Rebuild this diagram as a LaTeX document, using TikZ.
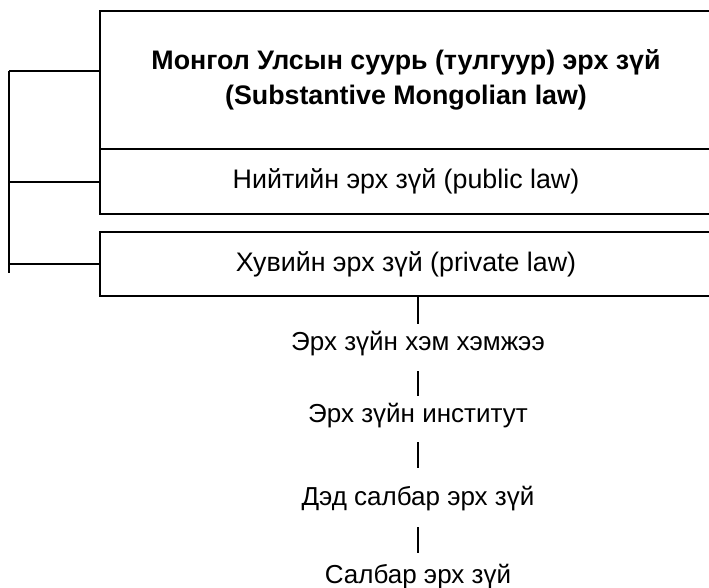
\documentclass[tikz,border=0pt]{standalone}
\usepackage{fontspec}
\setmainfont{Liberation Sans}
\usetikzlibrary{positioning}

\begin{document}
\begin{tikzpicture}[
  x=1pt, y=-1pt,
  lawbox/.style={
    rectangle,
    draw,
    line width=2.5pt,
    outer sep=0pt,
    align=center,
    minimum width=612pt,
    anchor=north west,
    font=\fontsize{26.8}{35}\selectfont
  },
  level/.style={
    inner xsep=0pt,
    inner ysep=7pt,
    text height=19pt,
    text depth=6pt
  },
  link/.style={line width=2pt},
  every node/.append style={font=\fontsize{26}{35}\selectfont}
]

\useasboundingbox (0,0) rectangle (709,587);
\clip (0,0) rectangle (709,587);

% Boxes (stacked top-down)
\node[lawbox, minimum height=138pt] (subst) at (100,11) {\textbf{Монгол Улсын суурь (тулгуур) эрх зүй}\\\textbf{(Substantive Mongolian law)}};
\node[lawbox, minimum height=65pt, below=0pt of subst] (public) {Нийтийн эрх зүй (public law)};
\node[lawbox, minimum height=64pt, below=18pt of public] (private) {Хувийн эрх зүй (private law)};

% Levels under private law
\node[level] (norm) at (418,343.5) {Эрх зүйн хэм хэмжээ};
\node[level] (inst) at (418,415.5) {Эрх зүйн институт};
\node[level] (subbr) at (418,498.5) {Дэд салбар эрх зүй};
\node[level] (branch) at (418,576.5) {Салбар эрх зүй};

% Left bracket
\coordinate (brtop) at (9,71);
\coordinate (brbot) at (9,273);
\draw[link] (brtop) -- (brbot);
\draw[link] (brtop) -- (brtop -| subst.west);
\draw[link] (public.west) -- (public.west -| brtop);
\draw[link] (private.west) -- (private.west -| brtop);

% Vertical lines
\draw[link] (private.south -| norm) -- (norm);
\draw[link, shorten <=8pt] (norm) -- (inst);
\draw[link, shorten <=7pt, shorten >=11pt] (inst) -- (subbr);
\draw[link, shorten <=9pt, shorten >=4pt] (subbr) -- (branch);

\end{tikzpicture}
\end{document}
